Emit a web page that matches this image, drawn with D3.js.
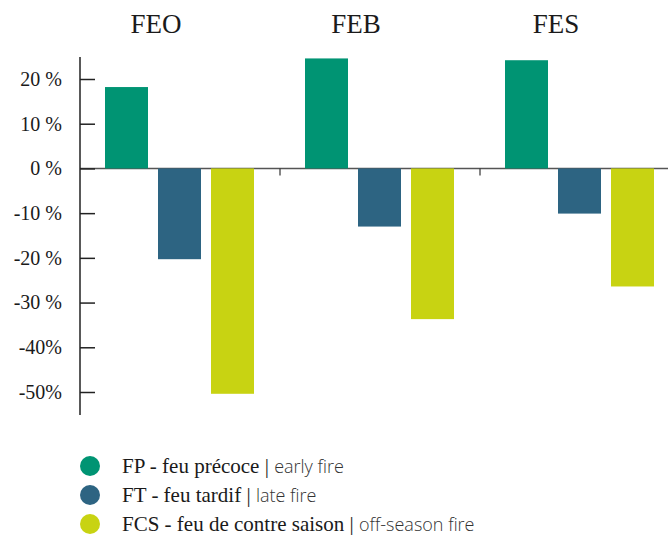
<!DOCTYPE html>
<html>

<head>
    <meta charset="utf-8">
    <title>FEO / FEB / FES</title>
    <script src="https://cdn.jsdelivr.net/npm/d3@7"></script>
    <style>
        body {
            margin: 0;
            background: #fff;
        }
    </style>
</head>

<body>
    <script>
        // Data
        const groups = ['FEO', 'FEB', 'FES'];
        const seriesKeys = ['FP', 'FT', 'FCS'];
        const fpValues = [18.2, 24.6, 24.2];
        const ftValues = [-20.3, -13.0, -10.1];
        const fcsValues = [-50.4, -33.7, -26.4];
        const tickValues = [20, 10, 0, -10, -20, -30, -40, -50];
        const tickLabels = ['20 %', '10 %', '0 %', '-10 %', '-20 %', '-30 %', '-40%', '-50%'];
        const legendFr = ['FP - feu précoce', 'FT - feu tardif', 'FCS - feu de contre saison'];
        const legendEn = ['early fire', 'late fire', 'off-season fire'];
        const colors = ['#009473', '#2d6482', '#c8d312'];

        const width = 668;
        const height = 535;
        const serif = '"Liberation Serif", "DejaVu Serif", serif';
        const sans = '"Open Sans", "Lato", sans-serif';

        const svg = d3.select('body')
            .append('svg')
            .attr('width', width)
            .attr('height', height);

        // Scales
        const x0 = d3.scaleBand()
            .domain(groups)
            .range([80, 680])
            .padding(0);

        const x1 = d3.scaleBand()
            .domain(seriesKeys)
            .range([25, 174])
            .paddingInner(10 / 53)
            .paddingOuter(0);

        const y = d3.scaleLinear()
            .domain([-50, 20])
            .range([392, 79]);

        const color = d3.scaleOrdinal()
            .domain(seriesKeys)
            .range(colors);

        const rows = groups.flatMap((g, i) => [
            { group: g, key: 'FP', value: fpValues[i] },
            { group: g, key: 'FT', value: ftValues[i] },
            { group: g, key: 'FCS', value: fcsValues[i] }
        ]);

        // Zero line across the chart
        svg.append('line')
            .attr('x1', 80)
            .attr('x2', width)
            .attr('y1', y(0))
            .attr('y2', y(0))
            .attr('stroke', '#555')
            .attr('stroke-width', 1.5);

        // Small separators between groups
        svg.selectAll('.sep')
            .data(groups.slice(1))
            .enter()
            .append('line')
            .attr('class', 'sep')
            .attr('x1', d => x0(d))
            .attr('x2', d => x0(d))
            .attr('y1', y(0))
            .attr('y2', y(0) + 7)
            .attr('stroke', '#333')
            .attr('stroke-width', 1.2);

        // Bars
        svg.selectAll('.bar')
            .data(rows)
            .enter()
            .append('rect')
            .attr('class', 'bar')
            .attr('x', d => x0(d.group) + x1(d.key))
            .attr('y', d => y(Math.max(0, d.value)))
            .attr('width', x1.bandwidth())
            .attr('height', d => Math.abs(y(d.value) - y(0)))
            .attr('fill', d => color(d.key));

        // Y axis
        const yAxis = svg.append('g')
            .attr('transform', 'translate(80, 0)')
            .call(d3.axisLeft(y)
                .tickValues(tickValues)
                .tickSize(-15)
                .tickPadding(18)
                .tickFormat((d, i) => tickLabels[i]));

        yAxis.select('.domain').remove();
        yAxis.selectAll('.tick line')
            .attr('stroke', '#222')
            .attr('stroke-width', 1.5);
        yAxis.selectAll('.tick text')
            .style('font-family', serif)
            .style('font-size', '20px')
            .attr('fill', '#1a1a1a');

        svg.append('line')
            .attr('x1', 80)
            .attr('x2', 80)
            .attr('y1', 57)
            .attr('y2', 415)
            .attr('stroke', '#222')
            .attr('stroke-width', 1.5);

        // Group titles
        svg.selectAll('.title')
            .data(groups)
            .enter()
            .append('text')
            .attr('class', 'title')
            .attr('x', d => x0(d) + x0.bandwidth() / 2 - 24)
            .attr('y', 33)
            .attr('text-anchor', 'middle')
            .style('font-family', serif)
            .style('font-size', '27px')
            .attr('fill', '#1a1a1a')
            .text(d => d);

        // Legend
        const legend = svg.selectAll('.legend')
            .data(seriesKeys)
            .enter()
            .append('g')
            .attr('class', 'legend')
            .attr('transform', (d, i) => `translate(90, ${466 + i * 29})`);

        legend.append('circle')
            .attr('r', 10)
            .attr('fill', d => color(d));

        const legendText = legend.append('text')
            .attr('x', 32)
            .attr('y', 7);

        legendText.append('tspan')
            .style('font-family', serif)
            .style('font-size', '21px')
            .attr('fill', '#1a1a1a')
            .text((d, i) => legendFr[i] + (i === 2 ? ' |  ' : ' | '));

        legendText.append('tspan')
            .style('font-family', sans)
            .style('font-weight', 300)
            .style('font-size', '18px')
            .attr('fill', '#333')
            .text((d, i) => legendEn[i]);
    </script>
</body>

</html>
